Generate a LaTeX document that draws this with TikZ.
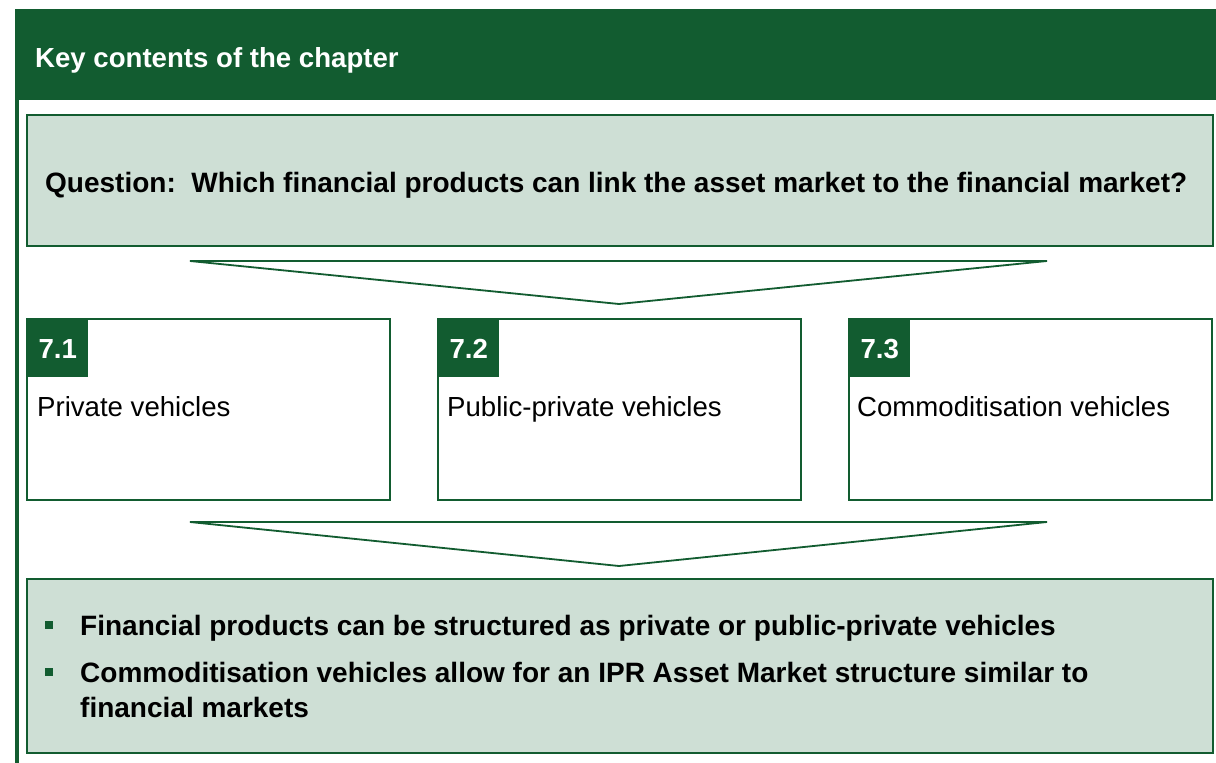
\documentclass[tikz,border=0pt]{standalone}
\usepackage{fontspec}
\setmainfont{Liberation Sans}
\definecolor{chapgreen}{RGB}{18,92,48}
\definecolor{palegreen}{RGB}{206,223,213}
\tikzset{
  x=1pt, y=-1pt,
  headbar/.style={fill=chapgreen, draw=none},
  sideline/.style={draw=chapgreen, line width=3.5pt},
  palebox/.style={fill=palegreen, draw=chapgreen, line width=1.8pt},
  topicbox/.style={fill=white, draw=chapgreen, line width=1.5pt},
  topictab/.style={fill=chapgreen, draw=none, text=white, inner sep=0pt,
    minimum width=61pt, minimum height=58pt, anchor=north west,
    text height=20pt, text depth=0pt, font=\fontsize{27.6}{33}\selectfont\bfseries},
  funnel/.style={fill=white, draw=chapgreen, line width=1.8pt, line join=miter},
  plaintext/.style={font=\fontsize{27.6}{33}\selectfont, inner sep=0pt, anchor=base west},
  boldtext/.style={plaintext, font=\fontsize{28}{33}\selectfont\bfseries},
  bulletsq/.style={fill=chapgreen, draw=none, minimum size=7.5pt, inner sep=0pt},
}
\begin{document}
\begin{tikzpicture}
\useasboundingbox (0,0) rectangle (1216,763);
% header and side rule
\fill[headbar] (15,9) rectangle (1216,100);
\draw[sideline] (16.75,100) -- (16.75,763);
\node[boldtext, text=white, font=\fontsize{27.6}{33}\selectfont\bfseries] (title) at (35,67) {Key contents of the chapter};
% question
\draw[palebox] (27,115) rectangle (1213,246);
\node[boldtext] (question) at (45,192) {Question:\ \ Which financial products can link the asset market to the financial market?};
\draw[funnel] (190,261) -- (1047,261) -- (619,304) -- cycle;
% the three vehicles
\draw[topicbox] (27,319) rectangle (390,500);
\node[topictab] (tab1) at (27,319) {7.1};
\node[plaintext] (private) at (37,416) {Private vehicles};
\draw[topicbox] (438,319) rectangle (801,500);
\node[topictab] (tab2) at (438,319) {7.2};
\node[plaintext] (publicprivate) at (447,416) {Public-private vehicles};
\draw[topicbox] (849,319) rectangle (1212,500);
\node[topictab] (tab3) at (849,319) {7.3};
\node[plaintext] (commod) at (857,416) {Commoditisation vehicles};
\draw[funnel] (190,522) -- (1047,522) -- (619,566) -- cycle;
% conclusions
\draw[palebox] (27,579) rectangle (1213,753);
\node[bulletsq] (dot1) at (49,625) {};
\node[boldtext] (concl1) at (80,635) {Financial products can be structured as private or public-private vehicles};
\node[bulletsq] (dot2) at (49,672) {};
\node[boldtext] (concl2) at (80,682) {Commoditisation vehicles allow for an IPR Asset Market structure similar to};
\node[boldtext] (concl2b) at (80,717) {financial markets};
\end{tikzpicture}
\end{document}
